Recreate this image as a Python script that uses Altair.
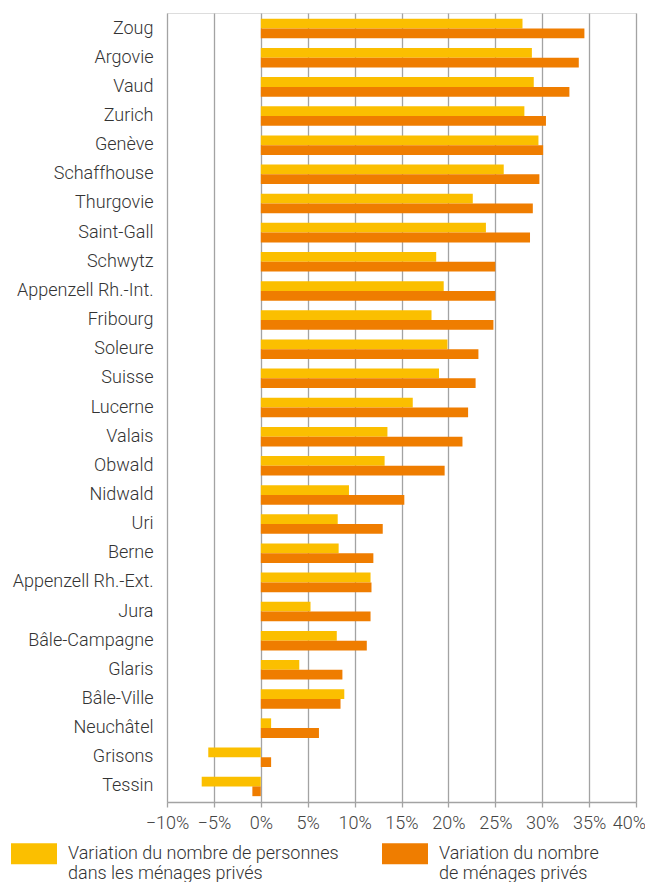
import altair as alt
import pandas as pd

cantons = ["Zoug", "Argovie", "Vaud", "Zurich", "Genève", "Schaffhouse", "Thurgovie",
           "Saint-Gall", "Schwytz", "Appenzell Rh.-Int.", "Fribourg", "Soleure", "Suisse",
           "Lucerne", "Valais", "Obwald", "Nidwald", "Uri", "Berne", "Appenzell Rh.-Ext.",
           "Jura", "Bâle-Campagne", "Glaris", "Bâle-Ville", "Neuchâtel", "Grisons", "Tessin"]

# percent change
personnes = [27.9, 28.9, 29.1, 28.1, 29.6, 25.9, 22.6, 24.0, 18.7, 19.5, 18.2, 19.9, 19.0,
             16.2, 13.5, 13.2, 9.4, 8.2, 8.3, 11.7, 5.3, 8.1, 4.1, 8.9, 1.1, -5.6, -6.3]
menages = [34.5, 33.9, 32.9, 30.4, 30.1, 29.7, 29.0, 28.7, 25.0, 25.0, 24.8, 23.2, 22.9,
           22.1, 21.5, 19.6, 15.3, 13.0, 12.0, 11.8, 11.7, 11.3, 8.7, 8.5, 6.2, 1.1, -0.9]

series = ["Variation du nombre de personnes|dans les ménages privés",
          "Variation du nombre|de ménages privés"]
colors = ["#FBBF00", "#EF7D00"]
x_ticks = [-0.10, -0.05, 0.0, 0.05, 0.10, 0.15, 0.20, 0.25, 0.30, 0.35, 0.40]

rows = []
for c, p, m in zip(cantons, personnes, menages):
    rows.append({"canton": c, "serie": series[0], "value": p / 100})
    rows.append({"canton": c, "serie": series[1], "value": m / 100})
df = pd.DataFrame(rows)

FONT = "Roboto"

chart = alt.Chart(df).mark_bar().encode(
    y=alt.Y("canton:N", sort=cantons, title=None,
            scale=alt.Scale(paddingInner=0.33, paddingOuter=0.2),
            axis=alt.Axis(ticks=False, domain=False, labelPadding=14, labelFontSize=18,
                          labelColor="#333333", labelFont=FONT, labelFontWeight=300,
                          labelLimit=300)),
    yOffset=alt.YOffset("serie:N", sort=series),
    x=alt.X("value:Q", title=None,
            scale=alt.Scale(domain=[-0.1, 0.4], nice=False, zero=False),
            axis=alt.Axis(values=x_ticks, format=".0%", grid=True, gridColor="#a3a3a3",
                          gridWidth=1.3, gridOpacity=1, domain=True, domainColor="#a3a3a3",
                          domainWidth=1.5, tickColor="#a3a3a3", tickSize=5, tickWidth=1.3,
                          labelPadding=7, labelFontSize=18, labelColor="#444444",
                          labelFont=FONT, labelFontWeight=300, labelFlush=False,
                          labelOffset={"condition": {"test": "datum.value > 0.39", "value": -7},
                                       "value": 0})),
    color=alt.Color("serie:N", sort=series,
                    scale=alt.Scale(domain=series, range=colors),
                    legend=alt.Legend(
                        title=None, orient="none", legendX=-156, legendY=830,
                        direction="horizontal", columns=2, columnPadding=43,
                        symbolType="M-2.19,-1L2.19,-1L2.19,1L-2.19,1Z",
                        symbolSize=441, symbolStrokeWidth=0, symbolOpacity=1,
                        symbolOffset=12.5, labelOffset=23.5, labelFontSize=18,
                        labelFont=FONT, labelFontWeight=300, labelColor="#333333",
                        labelLimit=400, labelBaseline="middle",
                        labelExpr="split(datum.label, '|')", padding=0)),
).properties(
    width=469, height=789,
    autosize=alt.AutoSizeParams(type="none"),
    padding={"left": 159, "top": 5, "right": 9, "bottom": 80},
).configure_view(
    fill="#efefef", stroke="#a3a3a3", strokeWidth=1.5
).configure(
    font=FONT, background="white"
)

chart.save("out.html", embed_options={"renderer": "svg", "actions": False})
